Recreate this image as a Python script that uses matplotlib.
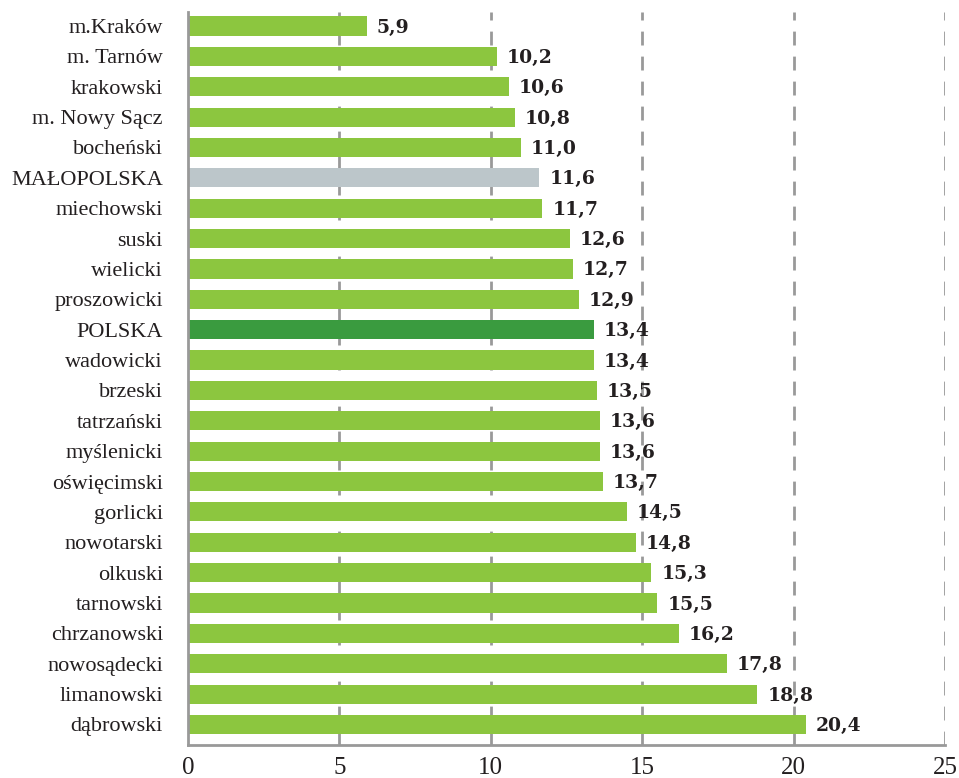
import matplotlib.pyplot as plt
import numpy as np

# data (top to bottom as in the chart)
regions = ["m.Kraków", "m. Tarnów", "krakowski", "m. Nowy Sącz", "bocheński",
           "MAŁOPOLSKA", "miechowski", "suski", "wielicki", "proszowicki",
           "POLSKA", "wadowicki", "brzeski", "tatrzański", "myślenicki",
           "oświęcimski", "gorlicki", "nowotarski", "olkuski", "tarnowski",
           "chrzanowski", "nowosądecki", "limanowski", "dąbrowski"]
values = [5.9, 10.2, 10.6, 10.8, 11.0, 11.6, 11.7, 12.6, 12.7, 12.9,
          13.4, 13.4, 13.5, 13.6, 13.6, 13.7, 14.5, 14.8, 15.3, 15.5,
          16.2, 17.8, 18.8, 20.4]
xticks = [0, 5, 10, 15, 20, 25]

green = "#8cc63f"
colors = []
for r in regions:
    if r == "POLSKA":
        colors.append("#3a9b3f")
    elif r == "MAŁOPOLSKA":
        colors.append("#bcc6ca")
    else:
        colors.append(green)

plt.rcParams['font.family'] = ['Liberation Serif', 'DejaVu Serif']
txt = "#231f20"

fig = plt.figure(figsize=(9.59, 7.78), dpi=100)
ax = fig.add_axes([188/959, 1 - 745/778, (945 - 188)/959, (745 - 12)/778])

y = np.arange(len(regions))
ax.barh(y, values, height=0.63, color=colors, zorder=2)

# value labels, bold, wider serif
for yi, v in zip(y, values):
    ax.text(v + 0.33, yi + 0.05, ("%.1f" % v).replace(".", ","), va="center", ha="left",
            fontsize=13.5, fontweight="bold", family="DejaVu Serif", color=txt, zorder=3)

# dashed vertical grid lines (not at 0, the spine is there)
for xv in xticks[1:]:
    ax.axvline(xv, color="#999999", linestyle=(0, (5, 4)), linewidth=2, zorder=1)

ax.set_xlim(0, 25)
ax.set_ylim(23.675, -0.46)
ax.set_yticks(y)
ax.set_yticklabels(regions, fontsize=16, color=txt)
ax.set_xticks(xticks)
ax.set_xticklabels([str(t) for t in xticks], fontsize=18, color=txt)
ax.tick_params(axis="y", length=0, pad=18)
ax.tick_params(axis="x", length=0, pad=9)

for s in ["top", "right"]:
    ax.spines[s].set_visible(False)
for s in ["left", "bottom"]:
    ax.spines[s].set_color("#999999")
    ax.spines[s].set_linewidth(2)

fig.savefig("out.png", dpi=100)
